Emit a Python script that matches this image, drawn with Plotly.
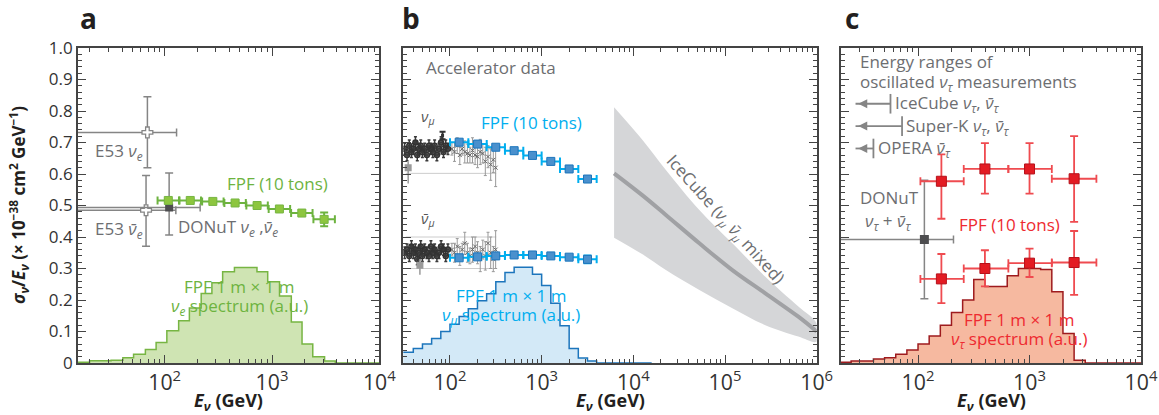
import numpy as np
import plotly.graph_objects as go

# ---------------- DATA ----------------
# Panel a: electron neutrinos
fpf_e_E = [108, 173, 281, 453, 726, 1172, 1897, 3062]
fpf_e_val = [0.516, 0.516, 0.513, 0.508, 0.500, 0.489, 0.476, 0.456]
fpf_e_err = [0.006, 0.005, 0.005, 0.005, 0.005, 0.006, 0.008, 0.022]

e53_nue_E, e53_nue_Ehi, e53_nue_val, e53_nue_up, e53_nue_dn = 69, 129, 0.732, 0.845, 0.620
e53_nueb_E, e53_nueb_Ehi, e53_nueb_val, e53_nueb_up, e53_nueb_dn = 67, 127, 0.485, 0.595, 0.371
donut_e_E, donut_e_Ehi, donut_e_val, donut_e_up, donut_e_dn = 110, 214, 0.494, 0.603, 0.406

hist_e_edges = [1.10, 1.30, 1.50, 1.61, 1.71, 1.82, 1.92, 2.02, 2.13, 2.23, 2.34, 2.44, 2.54,
                2.65, 2.76, 2.86, 2.96, 3.07, 3.18, 3.28, 3.38, 3.49, 3.59, 4.2]
hist_e_vals = [0.002, 0.007, 0.009, 0.017, 0.028, 0.043, 0.065, 0.102, 0.134, 0.175, 0.221, 0.255,
               0.290, 0.303, 0.303, 0.290, 0.258, 0.213, 0.130, 0.060, 0.020, 0.006, 0.0]

# Panel b: muon neutrinos
fpf_mu_E = [126, 200, 316, 501, 794, 1259, 1995, 3162]
fpf_mu_val = [0.701, 0.695, 0.685, 0.674, 0.659, 0.640, 0.616, 0.584]
fpf_mu_err = [0.005, 0.005, 0.005, 0.005, 0.005, 0.006, 0.007, 0.008]
fpf_mub_val = [0.334, 0.337, 0.340, 0.343, 0.343, 0.340, 0.336, 0.329]
fpf_mub_err = [0.005, 0.005, 0.005, 0.005, 0.005, 0.006, 0.007, 0.012]

acc_lo_E = [32, 34, 36, 38, 40, 42, 44, 46, 48, 50, 53, 56, 59, 62, 65, 68, 72, 76, 80, 85, 90, 95]
acc_mu_lo = [0.68, 0.66, 0.69, 0.67, 0.68, 0.70, 0.66, 0.68, 0.69, 0.67, 0.68, 0.66, 0.69, 0.68,
             0.67, 0.69, 0.66, 0.68, 0.70, 0.67, 0.69, 0.68]
acc_mub_lo = [0.35, 0.36, 0.34, 0.37, 0.35, 0.36, 0.33, 0.35, 0.37, 0.34, 0.36, 0.35, 0.34, 0.37,
              0.35, 0.36, 0.34, 0.35, 0.37, 0.36, 0.34, 0.36]
acc_hi_E = [105, 112, 120, 128, 136, 145, 155, 165, 176, 188, 200, 214, 228, 243, 260, 278, 297, 315]
acc_mu_hi = [0.68, 0.67, 0.69, 0.66, 0.68, 0.67, 0.665, 0.66, 0.675, 0.66, 0.655, 0.67, 0.665,
             0.64, 0.655, 0.63, 0.645, 0.62]
acc_mub_hi = [0.36, 0.35, 0.37, 0.34, 0.36, 0.38, 0.35, 0.34, 0.36, 0.37, 0.35, 0.33, 0.36,
              0.34, 0.38, 0.35, 0.33, 0.36]
acc_hi_err = [0.02, 0.03, 0.025, 0.03, 0.02, 0.035, 0.03, 0.025, 0.04, 0.03, 0.035, 0.04, 0.03,
              0.045, 0.035, 0.05, 0.04, 0.06]
acc_box_E = [35, 47]
acc_box_val = [0.62, 0.31]
acc_band_mu = [0.602]
acc_band_mub = [0.40, 0.30]
acc_band_E = [33, 320]

hist_mu_edges = [1.45, 1.60, 1.70, 1.80, 1.90, 2.00, 2.10, 2.20, 2.30, 2.40, 2.50, 2.60, 2.70,
                 2.90, 3.00, 3.10, 3.20, 3.30, 3.40, 3.50, 3.60, 4.2]
hist_mu_vals = [0.034, 0.046, 0.060, 0.078, 0.100, 0.123, 0.148, 0.172, 0.198, 0.220, 0.258,
                0.287, 0.304, 0.282, 0.246, 0.190, 0.118, 0.046, 0.016, 0.006, 0.0]

icecube_logE = [3.79, 4.10, 4.355, 4.72, 5.08, 5.44, 5.80, 6.0]
icecube_mid = [0.602, 0.532, 0.470, 0.380, 0.295, 0.221, 0.147, 0.100]
icecube_hi = [0.812, 0.708, 0.613, 0.486, 0.380, 0.274, 0.179, 0.125]
icecube_lo = [0.398, 0.345, 0.295, 0.232, 0.174, 0.120, 0.084, 0.068]

# Panel c: tau neutrinos
fpf_tau_E = [162, 398, 1000, 2512]
fpf_tau_Elo = [105, 257, 646, 1585]
fpf_tau_Ehi = [257, 646, 1585, 3981]
fpf_tau_hi_val = [0.577, 0.616, 0.616, 0.585]
fpf_tau_hi_up = [0.662, 0.698, 0.698, 0.720]
fpf_tau_hi_dn = [0.458, 0.538, 0.538, 0.448]
fpf_tau_lo_val = [0.267, 0.300, 0.317, 0.319]
fpf_tau_lo_up = [0.346, 0.358, 0.363, 0.419]
fpf_tau_lo_dn = [0.190, 0.243, 0.273, 0.216]

donut_t_E, donut_t_Ehi, donut_t_val, donut_t_up, donut_t_dn = 114, 208, 0.392, 0.580, 0.204

osc_labels = ["IceCube <i>ν</i><sub><i>τ</i></sub>, <i>ν̄</i><sub><i>τ</i></sub>",
              "Super-K <i>ν</i><sub><i>τ</i></sub>, <i>ν̄</i><sub><i>τ</i></sub>",
              "OPERA <i>ν̄</i><sub><i>τ</i></sub>"]
osc_Emax = [56.6, 71.9, 39.8]
osc_Etip = 26.7
osc_val = [0.823, 0.752, 0.681]

hist_tau_edges = [1.20, 1.40, 1.60, 1.70, 1.80, 1.90, 2.00, 2.10, 2.20, 2.30, 2.40, 2.50, 2.60,
                  2.70, 2.80, 2.90, 3.00, 3.10, 3.20, 3.30, 3.40, 3.50, 4.2]
hist_tau_vals = [0.002, 0.006, 0.013, 0.017, 0.028, 0.041, 0.060, 0.086, 0.120, 0.160, 0.200,
                 0.265, 0.243, 0.243, 0.277, 0.300, 0.300, 0.297, 0.226, 0.094, 0.009, 0.0]

# ---------------- STYLE ----------------
FONT = "Open Sans"
GREEN, GREEN_FILL, GREEN_LINE, GREEN_MK = "#6db33f", "#cfe4b3", "#77b543", "#8dc63f"
BLUE, BLUE_FILL, BLUE_LINE, BLUE_MK = "#00aeef", "#d3e9f7", "#1c75bc", "#4a90cd"
RED, RED_FILL, RED_LINE, RED_MK = "#ee2a30", "#f6b9a0", "#9e1b1e", "#e31b23"
GRAY, GRAYTXT = "#858585", "#6d6e71"
AX = "#444444"
LBL = 17

fig = go.Figure()


def hist(edges, vals, xa, ya, fill, line):
    x = [10 ** e for e in edges]
    y = list(vals) + [vals[-1]]
    fig.add_trace(go.Scatter(x=x, y=y, mode="lines", line=dict(shape="hv", color=line, width=1.5),
                             fill="tozeroy", fillcolor=fill, xaxis=xa, yaxis=ya, hoverinfo="skip"))


def pts(E, v, xa, ya, errx_lo=None, errx_hi=None, erry_up=None, erry_dn=None, mk=None, ecol=None,
        ew=1.5, cap=4):
    kw = {}
    if errx_lo is not None:
        kw["error_x"] = dict(type="data", symmetric=False, array=errx_hi, arrayminus=errx_lo,
                             color=ecol, thickness=ew, width=cap)
    if erry_up is not None:
        kw["error_y"] = dict(type="data", symmetric=False, array=erry_up, arrayminus=erry_dn,
                             color=ecol, thickness=ew, width=cap)
    fig.add_trace(go.Scatter(x=E, y=v, mode="markers", marker=mk, xaxis=xa, yaxis=ya,
                             hoverinfo="skip", **kw))


dec = 10 ** 0.1

# ---- Panel a ----
hist(hist_e_edges, hist_e_vals, "x", "y", GREEN_FILL, GREEN_LINE)
for E, Ehi, v, up, dn in [(e53_nue_E, e53_nue_Ehi, e53_nue_val, e53_nue_up, e53_nue_dn),
                          (e53_nueb_E, e53_nueb_Ehi, e53_nueb_val, e53_nueb_up, e53_nueb_dn)]:
    pts([E], [v], "x", "y", [E - 5], [Ehi - E], [up - v], [v - dn],
        mk=dict(symbol="cross", size=9, color="white", line=dict(color=GRAY, width=1.3)),
        ecol=GRAY, ew=1.5, cap=4)
pts([donut_e_E], [donut_e_val], "x", "y", [donut_e_E - 5], [donut_e_Ehi - donut_e_E],
    [donut_e_up - donut_e_val], [donut_e_val - donut_e_dn],
    mk=dict(symbol="square", size=8, color="#4d4d4f"), ecol=GRAY, ew=1.5, cap=4)
pts(fpf_e_E, fpf_e_val, "x", "y", [e - e / dec for e in fpf_e_E], [e * dec - e for e in fpf_e_E],
    fpf_e_err, fpf_e_err, mk=dict(symbol="square", size=8, color=GREEN_MK, line=dict(color=GREEN_LINE, width=1)),
    ecol=GREEN, ew=2, cap=4)

# ---- Panel b ----
hist(hist_mu_edges, hist_mu_vals, "x2", "y2", BLUE_FILL, BLUE_LINE)
fig.add_trace(go.Scatter(x=[10 ** e for e in icecube_logE] + [10 ** e for e in icecube_logE[::-1]],
                         y=icecube_hi + icecube_lo[::-1], mode="lines", line=dict(width=0, shape="spline"),
                         fill="toself", fillcolor="#d5d6d8", xaxis="x2", yaxis="y2", hoverinfo="skip"))
fig.add_trace(go.Scatter(x=[10 ** e for e in icecube_logE], y=icecube_mid, mode="lines",
                         line=dict(color="#a0a1a4", width=4, shape="spline"), xaxis="x2", yaxis="y2",
                         hoverinfo="skip"))
for b in acc_band_mu + acc_band_mub:
    fig.add_trace(go.Scatter(x=acc_band_E, y=[b, b], mode="lines", line=dict(color="#cccccc", width=1),
                             xaxis="x2", yaxis="y2", hoverinfo="skip"))
for vals in (acc_mu_hi, acc_mub_hi):
    pts(acc_hi_E, vals, "x2", "y2", None, None, acc_hi_err, acc_hi_err,
        mk=dict(symbol="x-thin-open", size=4, color="#666666", line=dict(width=1, color="#666666")),
        ecol="#999999", ew=1, cap=1.5)
for vals in (acc_mu_lo, acc_mub_lo):
    pts(acc_lo_E, vals, "x2", "y2", [e * 0.03 for e in acc_lo_E], [e * 0.03 for e in acc_lo_E],
        [0.018] * len(acc_lo_E), [0.018] * len(acc_lo_E),
        mk=dict(symbol="circle-open", size=5, color="#333333", line=dict(width=1.5)), ecol="#3a3a3a", ew=1.5, cap=1.5)
pts(acc_box_E, acc_box_val, "x2", "y2", None, None, [0.02, 0.02], [0.05, 0.03],
    mk=dict(symbol="square", size=7, color="#9a9a9a"), ecol="#9a9a9a", ew=1.5, cap=0)
pts([83], [0.722], "x2", "y2", None, None, [0.012], [0.012],
    mk=dict(symbol="square", size=3, color="#333"), ecol="#333", ew=2, cap=3)
for vals, errs in ((fpf_mu_val, fpf_mu_err), (fpf_mub_val, fpf_mub_err)):
    pts(fpf_mu_E, vals, "x2", "y2", [e - e / dec for e in fpf_mu_E], [e * dec - e for e in fpf_mu_E],
        errs, errs, mk=dict(symbol="square", size=8, color=BLUE_MK, line=dict(color=BLUE_LINE, width=1)),
        ecol=BLUE, ew=2, cap=4)

# ---- Panel c ----
hist(hist_tau_edges, hist_tau_vals, "x3", "y3", RED_FILL, RED_LINE)
pts([donut_t_E], [donut_t_val], "x3", "y3", [donut_t_E - 5], [donut_t_Ehi - donut_t_E],
    [donut_t_up - donut_t_val], [donut_t_val - donut_t_dn],
    mk=dict(symbol="square", size=9, color="#4d4d4f"), ecol=GRAY, ew=1.5, cap=4)
for v, up, dn in ((fpf_tau_hi_val, fpf_tau_hi_up, fpf_tau_hi_dn), (fpf_tau_lo_val, fpf_tau_lo_up, fpf_tau_lo_dn)):
    pts(fpf_tau_E, v, "x3", "y3", [e - l for e, l in zip(fpf_tau_E, fpf_tau_Elo)],
        [h - e for e, h in zip(fpf_tau_E, fpf_tau_Ehi)],
        [u - a for u, a in zip(up, v)], [a - d for a, d in zip(v, dn)],
        mk=dict(symbol="square", size=10, color=RED_MK, line=dict(color="#b5121b", width=1)),
        ecol="#ef4b50", ew=1.8, cap=4)
# arrows for oscillation measurement energy ranges
for Emax, v in zip(osc_Emax, osc_val):
    fig.add_trace(go.Scatter(x=[osc_Etip * 1.03, Emax], y=[v, v], mode="lines", line=dict(color=GRAY, width=1.8),
                             xaxis="x3", yaxis="y3", hoverinfo="skip"))
    fig.add_trace(go.Scatter(x=[Emax], y=[v], mode="markers",
                             marker=dict(symbol="line-ns", size=14, line=dict(color=GRAY, width=1.8)),
                             xaxis="x3", yaxis="y3", hoverinfo="skip"))
    fig.add_trace(go.Scatter(x=[osc_Etip * 1.09], y=[v], mode="markers",
                             marker=dict(symbol="arrow-left", size=9, color=GRAY, line=dict(width=0)),
                             xaxis="x3", yaxis="y3", hoverinfo="skip"))

# ---------------- LAYOUT ----------------
H = 415.0
W = 1159.0
ytop, ybot = 48, 363
ydom = [1 - ybot / H, 1 - ytop / H]


def xax(dom, rng):
    return dict(type="log", domain=dom, range=rng, showline=True, linecolor=AX, linewidth=1.8,
                mirror="ticks", ticks="inside", ticklen=8, tickwidth=1.3, tickcolor=AX,
                dtick=1, exponentformat="power", showgrid=False, zeroline=False, ticklabelstandoff=0,
                tickfont=dict(family=FONT, size=17, color="#333"),
                minor=dict(ticks="inside", ticklen=4, tickwidth=1.1, tickcolor=AX, dtick="D1", showgrid=False))


def yax(anchor, labels):
    return dict(domain=ydom, range=[0, 1], anchor=anchor, showline=True, linecolor=AX, linewidth=1.8,
                mirror="ticks", ticks="inside", ticklen=8, tickwidth=1.3, tickcolor=AX,
                tickmode="array", tickvals=[i / 10 for i in range(11)],
                ticktext=["0"] + [f"{i/10:.1f}" for i in range(1, 11)], showticklabels=labels,
                showgrid=False, zeroline=False, tickfont=dict(family=FONT, size=17, color="#333"),
                minor=dict(ticks="inside", ticklen=4, tickwidth=1.1, tickcolor=AX, dtick=0.02, showgrid=False))


fig.update_layout(
    width=1159, height=415, margin=dict(l=0, r=0, t=0, b=0, autoexpand=False), showlegend=False,
    plot_bgcolor="white", paper_bgcolor="white",
    xaxis=dict(**xax([78 / W, 379.3 / W], [1.192, 4.0]), anchor="y"),
    yaxis=yax("x", True),
    xaxis2=dict(**xax([403.3 / W, 816.7 / W], [1.491, 6.0]), anchor="y2"),
    yaxis2=yax("x2", False),
    xaxis3=dict(**xax([841 / W, 1141 / W], [1.309, 4.0]), anchor="y3"),
    yaxis3=yax("x3", False),
)

ann = []


def txt(xref, yref, logx, y, text, color, size=LBL, xanchor="center", angle=0):
    ann.append(dict(xref=xref, yref=yref, x=logx, y=y, text=text, showarrow=False, xanchor=xanchor,
                    yanchor="middle", textangle=angle, font=dict(family=FONT, size=size, color=color)))


nu = "<i>ν</i>"
nub = "<i>ν̄</i>"
# panel a
txt("x", "y", 1.331, 0.672, f"E53 {nu}<sub><i>e</i></sub>", GRAYTXT, xanchor="left")
txt("x", "y", 1.331, 0.425, f"E53 {nub}<sub><i>e</i></sub>", GRAYTXT, xanchor="left")
txt("x", "y", 2.105, 0.430, f"DONuT {nu}<sub><i>e</i></sub> ,{nub}<sub><i>e</i></sub>", GRAYTXT, xanchor="left")
txt("x", "y", 3.047, 0.571, "FPF (10 tons)", GREEN)
txt("x", "y", 2.70, 0.243, "FPF 1 m × 1 m", GREEN)
txt("x", "y", 2.70, 0.180, f"{nu}<sub><i>e</i></sub> spectrum (a.u.)", GREEN)
# panel b
txt("x2", "y2", 1.72, 0.937, "Accelerator data", GRAYTXT, xanchor="left")
txt("x2", "y2", 1.76, 0.780, f"{nu}<sub><i>μ</i></sub>", "#555", size=15)
txt("x2", "y2", 1.76, 0.456, f"{nub}<sub><i>μ</i></sub>", "#555", size=15)
txt("x2", "y2", 2.89, 0.762, "FPF (10 tons)", BLUE)
txt("x2", "y2", 2.67, 0.213, "FPF 1 m × 1 m", BLUE)
txt("x2", "y2", 2.67, 0.150, f"{nu}<sub><i>μ</i></sub> spectrum (a.u.)", BLUE)
txt("x2", "y2", 5.0, 0.455, f"IceCube ({nu}<sub><i>μ</i></sub> {nub}<sub><i>μ</i></sub> mixed)", GRAYTXT,
    angle=48)
# panel c
txt("x3", "y3", 1.457, 0.956, "Energy ranges of", GRAYTXT, xanchor="left")
txt("x3", "y3", 1.457, 0.892, f"oscillated {nu}<sub><i>τ</i></sub> measurements", GRAYTXT, xanchor="left")
for Emax, v, lab in zip(osc_Emax, osc_val, osc_labels):
    txt("x3", "y3", np.log10(Emax) + 0.02, v, lab, GRAYTXT, xanchor="left")
txt("x3", "y3", 1.457, 0.524, "DONuT", GRAYTXT, xanchor="left")
txt("x3", "y3", 1.51, 0.448, f"{nu}<sub><i>τ</i></sub> + {nub}<sub><i>τ</i></sub>", GRAYTXT, xanchor="left")
txt("x3", "y3", 2.82, 0.441, "FPF (10 tons)", RED)
txt("x3", "y3", 2.91, 0.137, "FPF 1 m × 1 m", RED)
txt("x3", "y3", 2.91, 0.075, f"{nu}<sub><i>τ</i></sub> spectrum (a.u.)", RED)

# panel letters and axis titles
for lx, letter in ((88, "a"), (411, "b"), (852, "c")):
    ann.append(dict(xref="paper", yref="paper", x=lx / W, y=1 - 18 / H, text=f"<b>{letter}</b>",
                    showarrow=False, xanchor="center", yanchor="middle",
                    font=dict(family=FONT, size=28, color="#231f20")))
for cx in ((78 + 379.3) / 2, (403.3 + 816.7) / 2, (841 + 1141) / 2):
    ann.append(dict(xref="paper", yref="paper", x=cx / W, y=1 - 401.5 / H,
                    text="<b><i>E</i><sub><i>ν</i></sub> (GeV)</b>", showarrow=False,
                    xanchor="center", yanchor="middle", font=dict(family=FONT, size=18, color="#231f20")))
ann.append(dict(xref="paper", yref="paper", x=19 / W, y=1 - 205 / H,
                text="<b><i>σ</i><sub><i>ν</i></sub>/<i>E</i><sub><i>ν</i></sub> (× 10<sup>−38</sup> cm<sup>2</sup> GeV<sup>−1</sup>)</b>",
                showarrow=False, textangle=-90, xanchor="center", yanchor="middle",
                font=dict(family=FONT, size=17, color="#231f20")))
fig.update_layout(annotations=ann)

fig.write_html("out.html")
